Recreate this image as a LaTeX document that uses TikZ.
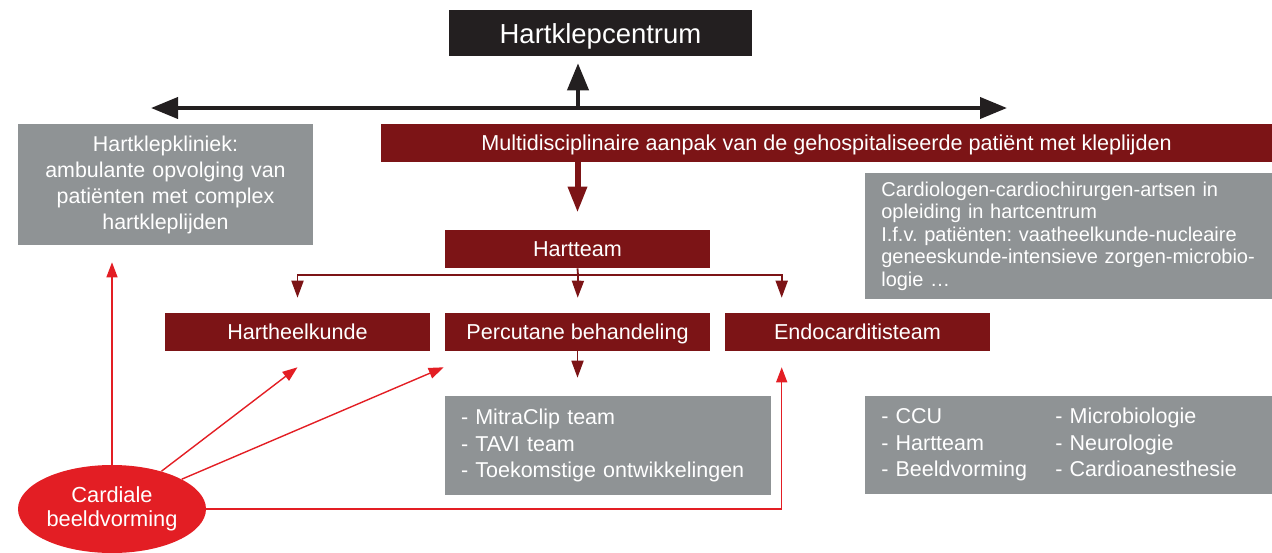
\documentclass[tikz,border=0pt]{standalone}
\usepackage{fontspec}
\setmainfont{Liberation Sans}
\usetikzlibrary{arrows.meta}
\usetikzlibrary{shapes.geometric}
\frenchspacing

\begin{document}
\begin{tikzpicture}[x=1pt, y=-1pt, line width=0.6pt,
        zwart/.style={fill=hkzwart,text=white,inner sep=0pt,text height=20pt,text depth=0pt,font=\fontsize{27.5}{32}\selectfont},
        rood/.style={fill=hkrood,text=white,inner sep=0pt,minimum height=38pt,text height=15.5pt,text depth=0pt,font=\fontsize{21.6}{26}\selectfont},
        grijs/.style={fill=hkgrijs,text=white,inner xsep=16pt,inner ysep=0pt,align=left,font=\fontsize{20}{22.5}\selectfont},
        lijst/.style={grijs,font=\fontsize{21.5}{26.3}\selectfont},
        beeld/.style={ellipse,fill=hkfel,text=white,inner sep=0pt,align=center,font=\fontsize{21.8}{24}\selectfont},
        zw/.style={draw=hkzwart,line width=4pt,-{Triangle[length=27pt,width=21pt]}},
        rdik/.style={draw=hkrood,line width=6pt,-{Triangle[length=26pt,width=18pt]}},
        rdun/.style={draw=hkrood,line width=1.8pt,-{Triangle[length=17pt,width=12pt]}},
        fel/.style={draw=hkfel,line width=1.4pt,-{Triangle[length=15pt,width=11pt]}}]
      \definecolor{hkzwart}{HTML}{231F20}
      \definecolor{hkrood}{HTML}{7C1416}
      \definecolor{hkgrijs}{HTML}{8F9395}
      \definecolor{hkfel}{HTML}{E31E24}
      \useasboundingbox (0,0) rectangle (1272,552);
      % blokken
      \node[zwart, minimum width=303pt, minimum height=46pt] (centrum) at (600.5,33) {Hartklepcentrum};
      \node[grijs, align=center, text width=263pt, minimum height=121pt, font=\fontsize{21.4}{26}\selectfont] (kliniek) at (165.5,184.5)
        {Hartklepkliniek:\\ambulante opvolging van\\patiënten met complex\\hartkleplijden};
      \node[rood, minimum width=891pt] (aanpak) at (826.5,143) {Multidisciplinaire aanpak van de gehospitaliseerde patiënt met kleplijden};
      \node[rood, minimum width=265pt] (hartteam) at (577.5,249) {Hartteam};
      \node[rood, minimum width=265pt] (hk) at (297.5,332) {Hartheelkunde};
      \node[rood, minimum width=265pt] (perc) at (577.5,332) {Percutane behandeling};
      \node[rood, minimum width=265pt] (endo) at (857.5,332) {Endocarditisteam};
      \node[lijst, text width=294pt, minimum height=99pt] (mitra) at (608,445.5)
        {- MitraClip team\\- TAVI team\\- Toekomstige ontwikkelingen};
      % loopt rechts over de rand door
      \node[grijs, anchor=west, text width=392pt, minimum height=126pt] (artsen) at (865,236)
        {Cardiologen-cardiochirurgen-artsen in\\opleiding in hartcentrum\\I.f.v. patiënten: vaatheelkunde-nucleaire\\geneeskunde-intensieve zorgen-microbio-\\logie …};
      \node[lijst, anchor=west, text width=392pt, minimum height=98pt] (diensten) at (865,445)
        {\begin{tabular}{@{}p{174pt}@{}l@{}}
          - CCU & - Microbiologie\\
          - Hartteam & - Neurologie\\
          - Beeldvorming & - Cardioanesthesie
        \end{tabular}};
      \node[beeld, minimum width=188pt, minimum height=88pt] (cardiaal) at (112,509) {Cardiale\\beeldvorming};
      % zwarte pijlen
      \coordinate (knik) at (578,108);
      \coordinate (links) at (151,108);
      \coordinate (rechts) at (1007,108);
      \draw[zw] (knik) -- (links);
      \draw[zw] (knik) -- (rechts);
      \draw[zw, shorten >=7pt] (knik) -- (knik |- centrum.south);
      % hartteam en vertakking
      \draw[rdik, shorten >=17pt] (aanpak.south -| hartteam) -- (hartteam.north);
      \coordinate (tak) at (578,275);
      \coordinate (endotop) at ([xshift=57pt]endo.north west);
      \draw[hkrood, line width=1.8pt] (hartteam.south) -- (tak);
      \draw[rdun, shorten >=15pt] (tak) -| (hk.north);
      \draw[rdun, shorten >=15pt] (tak) -- (perc.north);
      \draw[rdun, shorten >=15pt] (tak) -| (endotop);
      \draw[rdun, shorten >=18pt] (perc.south) -- (perc.south |- mitra.north);
      % beeldvorming
      \coordinate (hkin) at ([yshift=-16pt]hk.south);
      \coordinate (percin) at ([xshift=-1pt,yshift=-16pt]perc.south west);
      \coordinate (endoin) at ([xshift=57pt,yshift=-16pt]endo.south west);
      \draw[fel, shorten >=17pt] (cardiaal.north) -- (cardiaal.north |- kliniek.south);
      \draw[fel] (cardiaal) -- (hkin);
      \draw[fel] (cardiaal) -- (percin);
      \draw[fel] (cardiaal.east) -| (endoin);
    \end{tikzpicture}
\end{document}
